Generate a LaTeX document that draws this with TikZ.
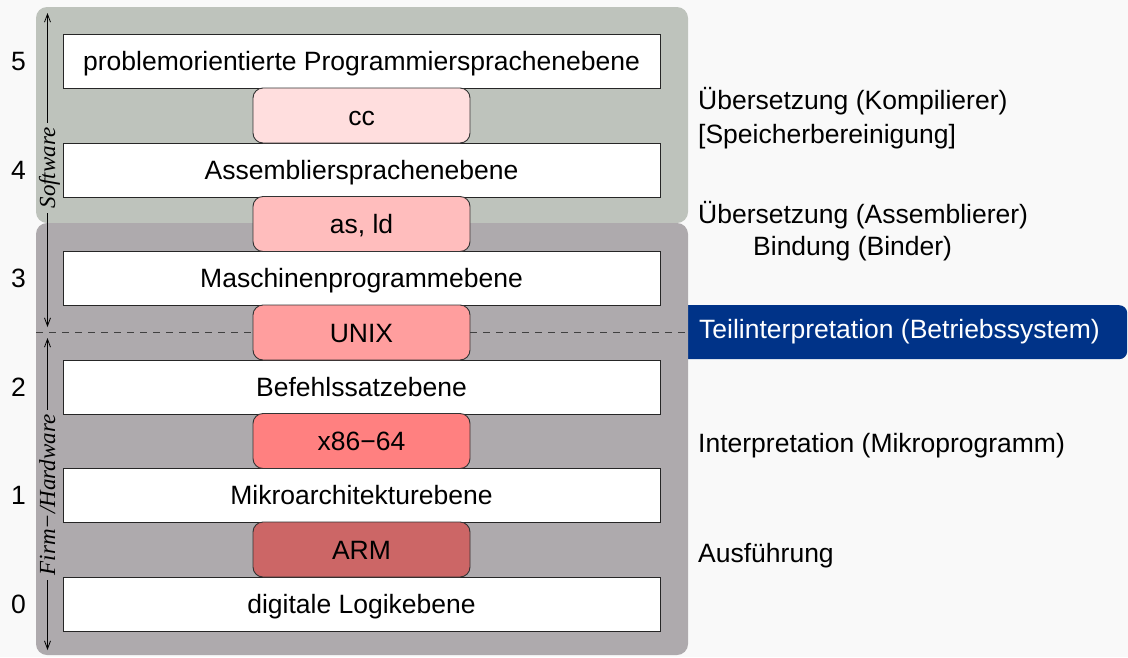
\documentclass[tikz,border=0pt]{standalone}
\usepackage{fontspec}
\setmainfont{Liberation Sans}
\newfontfamily\serifit{Liberation Serif}
\usetikzlibrary{arrows.meta}
\definecolor{bgc}{RGB}{249,249,249}
\definecolor{swc}{RGB}{190,195,188}
\definecolor{hwc}{RGB}{174,170,173}
\definecolor{tiblue}{RGB}{0,51,136}
\definecolor{ca}{RGB}{255,222,222}
\definecolor{cb}{RGB}{255,189,189}
\definecolor{cc}{RGB}{255,158,158}
\definecolor{cd}{RGB}{255,128,128}
\definecolor{ce}{RGB}{204,102,102}
\begin{document}
\begin{tikzpicture}[x=1pt,y=-1pt,
  every node/.style={font=\fontsize{26.5}{30}\selectfont, text height=19pt, text depth=0pt, inner sep=0pt},
  level/.style={draw=black!85, line width=1pt, fill=white, minimum width=597pt, minimum height=54pt},
  tool/.style={draw=black!80, line width=0.9pt, rounded corners=10pt, minimum width=217pt, minimum height=55pt},
  lbl/.style={anchor=base west},
  side/.style={font=\fontsize{23}{26}\serifit\itshape\selectfont, rotate=90, inner xsep=5pt, inner ysep=1pt, text height=15pt},
  dimarrow/.style={{Straight Barb[length=8pt,width=6pt]}-{Straight Barb[length=8pt,width=6pt]}, line width=0.8pt},
  sep/.style={draw=black!75, line width=0.8pt, dash pattern=on 7pt off 6pt},
]
\fill[bgc] (0,0) rectangle (1128,657);
\useasboundingbox (0,0) rectangle (1128,657);

% blue highlight (left part hidden below the panel)
\node[fill=tiblue, rounded corners=8pt, minimum width=457pt, minimum height=54pt, anchor=north west] (tibox) at (670,305) {};

% panels
\fill[swc, rounded corners=11pt] (36,7) rectangle (688,223);
\fill[hwc, rounded corners=11pt] (36,223) rectangle (688,655);

% levels
\node[level] (l5) at (361.5,61) {problemorientierte Programmiersprachenebene};
\node[level] (l4) at (361.5,170) {Assembliersprachenebene};
\node[level] (l3) at (361.5,278) {Maschinenprogrammebene};
\node[level] (l2) at (361.5,387) {Befehlssatzebene};
\node[level] (l1) at (361.5,495) {Mikroarchitekturebene};
\node[level] (l0) at (361.5,604) {digitale Logikebene};

% tools
\node[tool, fill=ca] (cc) at (361.5,115.5) {cc};
\node[tool, fill=cb] (asld) at (361.5,224) {as, ld};
\node[tool, fill=cc] (unix) at (361.5,332.5) {UNIX};
\node[tool, fill=cd] (x86) at (361.5,441) {x86−64};
\node[tool, fill=ce] (arm) at (361.5,549.5) {ARM};

% dashed separator
\coordinate (dl) at (36,332.5);
\coordinate (dr) at (688,332.5);
\draw[sep] (dl) -- (unix.west);
\draw[sep] (unix.east) -- (dr);

% level numbers
\node (n5) at (18.5,61) {5};
\node (n4) at (18.5,170) {4};
\node (n3) at (18.5,278) {3};
\node (n2) at (18.5,387) {2};
\node (n1) at (18.5,495) {1};
\node (n0) at (18.5,604) {0};

% side arrows
\coordinate (swt) at (47.5,13);
\coordinate (swb) at (47.5,327);
\draw[dimarrow] (swt) -- (swb);
\node[side, fill=swc] (swl) at (47.5,168) {Software};
\coordinate (hwt) at (47.5,338);
\coordinate (hwb) at (47.5,650);
\draw[dimarrow] (hwt) -- (hwb);
\node[side, fill=hwc] (hwl) at (47.5,495) {Firm−/Hardware};

% right labels
\node[lbl] (r1) at (698,109) {Übersetzung (Kompilierer)};
\node[lbl] (r2) at (698,143) {[Speicherbereinigung]};
\node[lbl] (r3) at (698,223) {Übersetzung (Assemblierer)};
\node[lbl] (r4) at (753,255) {Bindung (Binder)};
\node[lbl, text=white] (r5) at (699,338) {Teilinterpretation (Betriebssystem)};
\node[lbl] (r6) at (698,452) {Interpretation (Mikroprogramm)};
\node[lbl] (r7) at (698,562) {Ausführung};
\end{tikzpicture}
\end{document}
